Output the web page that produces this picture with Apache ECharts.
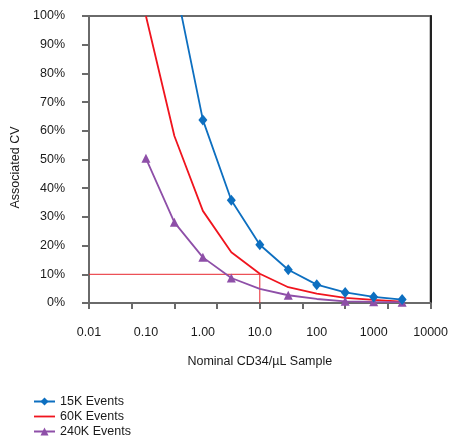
<!DOCTYPE html>
<html>
<head>
<meta charset="utf-8">
<script src="https://cdn.jsdelivr.net/npm/echarts@6/dist/echarts.min.js"></script>
<style>html,body{margin:0;padding:0;background:#fff;}#c{width:451px;height:439px;}</style>
</head>
<body>
<div id="c"></div>
<script>
// Nominal CD34/µL sample (x) values
const xValues = [0.1, 0.316, 1, 3.16, 10, 31.6, 100, 316, 1000, 3162];
// Associated CV (%) per series
const cv15K  = [200, 112.5, 63.8, 35.8, 20.3, 11.6, 6.4, 3.7, 2.1, 1.2];
const cv60K  = [100, 58.2, 32.1, 17.7, 10.2, 5.5, 3.3, 1.8, 1.1, 0.5];
const cv240K = [50.4, 28.1, 15.9, 8.7, 4.9, 2.7, 1.4, 0.6, 0.4, 0.3];
const hiddenMarker240K = [false, false, false, false, true, false, true, false, false, false];
// 10% reference lines
const refX = [0.01, 10, 10];
const refY = [10, 10, 0];
const xTickLabels = {0.01:'0.01', 0.1:'0.10', 1:'1.00', 10:'10.0', 100:'100', 1000:'1000', 10000:'10000'};
const seriesNames = ['15K Events', '60K Events', '240K Events'];

const pairs = (xs, ys) => xs.map((x, i) => [x, ys[i]]);
const font = 'Liberation Sans, Arial, sans-serif';
const txt = '#1a1a1a';
const axisGray = '#6a6a6a';
const blue = '#0d6fc0', red = '#f0141e', purple = '#8e4fa8';

const chart = echarts.init(document.getElementById('c'), null, {renderer: 'canvas'});
chart.setOption({
  animation: false,
  backgroundColor: '#fff',
  grid: {left: 89, right: 17, top: 16, bottom: 136, show: true, borderColor: axisGray, borderWidth: 2, containLabel: false},
  legend: {
    orient: 'vertical', left: 33, top: 395, height: 60, itemWidth: 21, itemHeight: 10, itemGap: 2, padding: 0,
    symbolKeepAspect: true,
    data: [
      {name: seriesNames[0]},
      {name: seriesNames[1], icon: 'path://M0,0 L21,0 L21,1.8 L0,1.8 Z'},
      {name: seriesNames[2]}
    ],
    textStyle: {fontFamily: font, fontSize: 12.5, color: txt}
  },
  xAxis: [{
    type: 'log', logBase: 10, min: 0.01, max: 10000,
    name: 'Nominal CD34/\u00b5L Sample', nameLocation: 'middle', nameGap: 52,
    nameTextStyle: {fontFamily: font, fontSize: 12.5, color: txt},
    axisLine: {show: true, lineStyle: {color: axisGray, width: 2}},
    axisTick: {show: false},
    splitLine: {show: false},
    axisLabel: {fontFamily: font, fontSize: 12.5, color: txt, margin: 23,
      formatter: v => { const k = Object.keys(xTickLabels).find(key => Math.abs(Math.log10(+key) - Math.log10(v)) < 1e-6); return k ? xTickLabels[k] : ''; }}
  }, {
    type: 'value', min: 0, max: 8, interval: 1, position: 'bottom', gridIndex: 0,
    axisLine: {show: false},
    axisTick: {show: true, inside: false, length: 6, lineStyle: {color: axisGray, width: 2}},
    axisLabel: {show: false}, splitLine: {show: false}
  }],
  yAxis: [{
    type: 'value', min: 0, max: 100, interval: 10,
    name: 'Associated CV', nameLocation: 'middle', nameGap: 62,
    nameTextStyle: {fontFamily: font, fontSize: 12.5, color: txt, padding: [0, 16, 0, 0]},
    axisLine: {show: true, lineStyle: {color: axisGray, width: 2}},
    axisTick: {show: true, inside: false, length: 7, lineStyle: {color: axisGray, width: 2}},
    splitLine: {show: false},
    axisLabel: {fontFamily: font, fontSize: 12.5, color: txt, margin: 24, formatter: '{value}%'}
  }, {
    type: 'value', min: 0, max: 100, position: 'right',
    axisLine: {show: true, lineStyle: {color: '#222', width: 2}},
    axisTick: {show: false}, axisLabel: {show: false}, splitLine: {show: false}
  }],
  series: [
    {
      name: 'ref', type: 'line', data: pairs(refX, refY), symbol: 'none', silent: true,
      lineStyle: {color: '#e8262e', width: 1}, z: 1
    },
    {
      name: seriesNames[0], type: 'line', data: pairs(xValues, cv15K), clip: true,
      symbol: 'diamond', symbolSize: [9, 11], color: blue,
      lineStyle: {color: blue, width: 1.8}, itemStyle: {color: blue}, z: 3
    },
    {
      name: seriesNames[1], type: 'line', data: pairs(xValues, cv60K), clip: true,
      symbol: 'none', showSymbol: false, color: red,
      lineStyle: {color: red, width: 1.8}, itemStyle: {color: red}, z: 2
    },
    {
      name: seriesNames[2], type: 'line', clip: true,
      data: xValues.map((x, i) => ({value: [x, cv240K[i]], symbolSize: hiddenMarker240K[i] ? 0 : 9})),
      symbol: 'triangle', symbolSize: 9, color: purple,
      lineStyle: {color: purple, width: 1.8}, itemStyle: {color: purple}, z: 2
    }
  ]
});
</script>
</body>
</html>
